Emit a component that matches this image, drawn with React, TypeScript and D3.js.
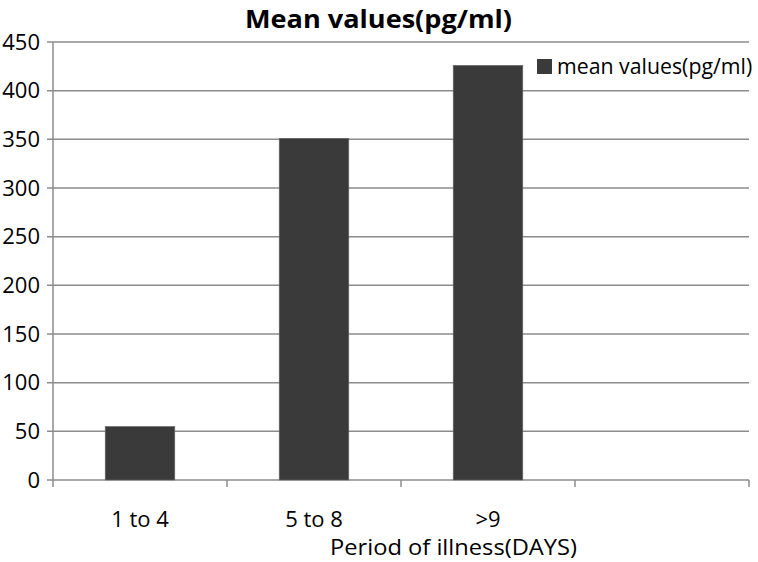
import React from "react";
import * as d3 from "d3";

const categories = ["1 to 4", "5 to 8", ">9", ""];
const meanValues = [55, 351, 426, null];
const yTicks = [0, 50, 100, 150, 200, 250, 300, 350, 400, 450];
const title = "Mean values(pg/ml)";
const seriesName = "mean values(pg/ml)";
const xTitle = "Period of illness(DAYS)";

const W = 758, H = 562;
const left = 53, right = 749, top = 42, bottom = 480;
const font = "'Open Sans', sans-serif";

export default function App() {
  const x = d3.scaleBand<string>().domain(categories.map((c, i) => i + "")).range([left, right]);
  const y = d3.scaleLinear().domain([0, 450]).range([bottom, top]);
  const bw = x.bandwidth() * 0.4;
  const edges = d3.range(categories.length + 1).map((i) => left + i * x.bandwidth());
  return (
    <svg width={W} height={H} style={{ position: "absolute", left: 0, top: 0, background: "#fff" }}>
      <text x={378.5} y={28} textAnchor="middle" fontFamily={font} fontWeight="bold" fontSize={25} textLength={267} lengthAdjust="spacingAndGlyphs" fill="#000">{title}</text>
      {yTicks.map((t) => (
        <g key={t}>
          <line x1={left - 6} x2={right} y1={y(t)} y2={y(t)} stroke="#8c8c8c" strokeWidth={1.5} />
          <text x={40} y={y(t) + 7.5} textAnchor="end" fontFamily={font} fontSize={22} fill="#000">{t}</text>
        </g>
      ))}
      <line x1={left} x2={left} y1={top} y2={bottom} stroke="#8c8c8c" strokeWidth={1.5} />
      {edges.map((e, i) => (
        <line key={i} x1={e} x2={e} y1={bottom} y2={bottom + 7} stroke="#8c8c8c" strokeWidth={1.5} />
      ))}
      {meanValues.map((v, i) =>
        v == null ? null : (
          <rect key={i} x={(x(i + "") as number) + (x.bandwidth() - bw) / 2} y={y(v)} width={bw} height={bottom - y(v)} fill="#3a3a3a" stroke="#6a6a6a" strokeWidth={0.6} />
        )
      )}
      {categories.map((c, i) => (
        <text key={i} x={(x(i + "") as number) + x.bandwidth() / 2} y={527} textAnchor="middle" fontFamily={font} fontSize={22} fill="#000">{c}</text>
      ))}
      <text x={453.5} y={555} textAnchor="middle" fontFamily={font} fontSize={21} textLength={247} lengthAdjust="spacingAndGlyphs" fill="#000">{xTitle}</text>
      <rect x={537} y={59} width={15} height={15} fill="#3a3a3a" />
      <text x={557} y={74} fontFamily={font} fontSize={21.3} fill="#000">{seriesName}</text>
    </svg>
  );
}
